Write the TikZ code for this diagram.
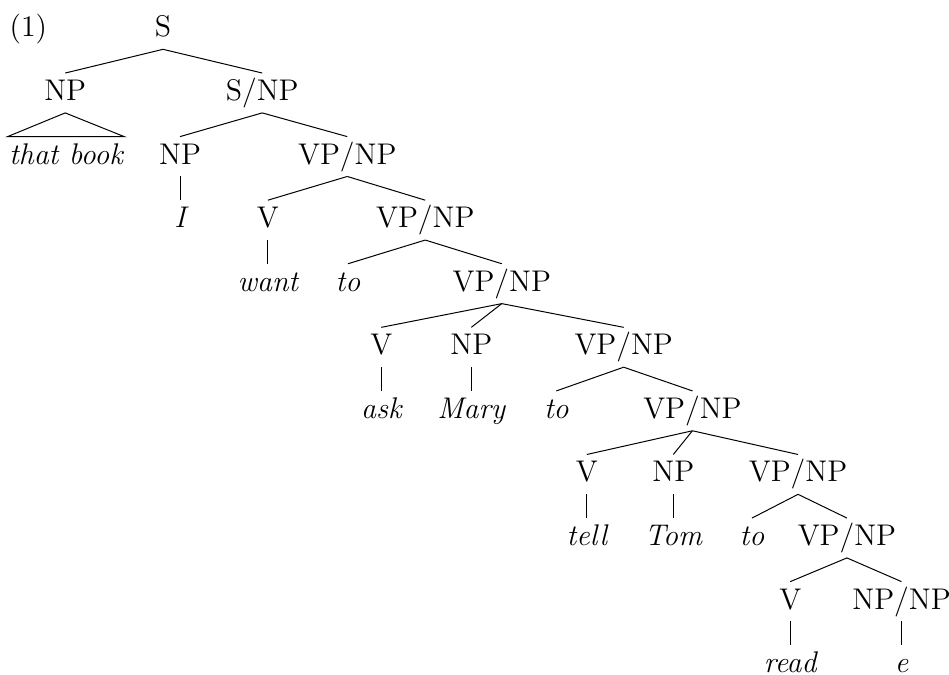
\documentclass[tikz,border=0pt]{standalone}
\usetikzlibrary{positioning}
\begin{document}
\begin{tikzpicture}[x=1cm, y=-0.897cm,
        cat/.style={anchor=base, text height=8.2pt, text depth=2.2pt, inner sep=2.6pt, font=\fontsize{12}{14.4}\selectfont},
        word/.style={cat, inner xsep=0.4pt, font=\fontsize{12}{14.4}\selectfont\itshape},
        branch/.style={draw, thin}]
    \useasboundingbox (0cm,0.52cm) rectangle (13.39cm,-9.002cm);

    \node [cat] (ex) at (0.40,0) {(1)};
    \node [cat] (s) at (2.30,0) {S};
    \node [cat] (np1) at (0.92,1) {NP};
    \node [cat] (snp) at (3.70,1) {S/NP};
    \node [word] (book) at (0.93,2) {that book};
    \node [cat] (np2) at (2.54,2) {NP};
    \node [cat] (vp1) at (4.90,2) {VP/NP};
    \node [word] (i) at (2.54,3) {I};
    \node [cat] (v1) at (3.78,3) {V};
    \node [cat] (vp2) at (6.00,3) {VP/NP};
    \node [word] (want) at (3.78,4) {want};
    \node [word] (to1) at (4.91,4) {to};
    \node [cat] (vp3) at (7.08,4) {VP/NP};
    \node [cat] (v2) at (5.38,5) {V};
    \node [cat] (np3) at (6.65,5) {NP};
    \node [cat] (vp4) at (8.80,5) {VP/NP};
    \node [word] (ask) at (5.38,6) {ask};
    \node [word] (mary) at (6.65,6) {Mary};
    \node [word] (to2) at (7.85,6) {to};
    \node [cat] (vp5) at (9.77,6) {VP/NP};
    \node [cat] (v3) at (8.28,7) {V};
    \node [cat] (np4) at (9.50,7) {NP};
    \node [cat] (vp6) at (11.26,7) {VP/NP};
    \node [word] (tell) at (8.28,8) {tell};
    \node [word] (tom) at (9.50,8) {Tom};
    \node [word] (to3) at (10.61,8) {to};
    \node [cat] (vp7) at (11.95,8) {VP/NP};
    \node [cat] (v4) at (11.15,9) {V};
    \node [cat] (npnp) at (12.72,9) {NP/NP};
    \node [word] (read) at (11.15,10) {read};
    \node [word] (e) at (12.72,10) {e};

    \path [branch] (s.south) -- (np1.north);
    \path [branch] (s.south) -- (snp.north);
    \path [branch] (np1.south) -- (book.north west) -- (book.north east) -- cycle; % roof
    \path [branch] (snp.south) -- (np2.north);
    \path [branch] (snp.south) -- (vp1.north);
    \path [branch] (np2.south) -- (i.north);
    \path [branch] (vp1.south) -- (v1.north);
    \path [branch] (vp1.south) -- (vp2.north);
    \path [branch] (v1.south) -- (want.north);
    \path [branch] (vp2.south) -- (to1.north);
    \path [branch] (vp2.south) -- (vp3.north);
    \path [branch] (vp3.south) -- (v2.north);
    \path [branch] (vp3.south) -- (np3.north);
    \path [branch] (vp3.south) -- (vp4.north);
    \path [branch] (v2.south) -- (ask.north);
    \path [branch] (np3.south) -- (mary.north);
    \path [branch] (vp4.south) -- (to2.north);
    \path [branch] (vp4.south) -- (vp5.north);
    \path [branch] (vp5.south) -- (v3.north);
    \path [branch] (vp5.south) -- (np4.north);
    \path [branch] (vp5.south) -- (vp6.north);
    \path [branch] (v3.south) -- (tell.north);
    \path [branch] (np4.south) -- (tom.north);
    \path [branch] (vp6.south) -- (to3.north);
    \path [branch] (vp6.south) -- (vp7.north);
    \path [branch] (vp7.south) -- (v4.north);
    \path [branch] (vp7.south) -- (npnp.north);
    \path [branch] (v4.south) -- (read.north);
    \path [branch] (npnp.south) -- (e.north);
\end{tikzpicture}
\end{document}
